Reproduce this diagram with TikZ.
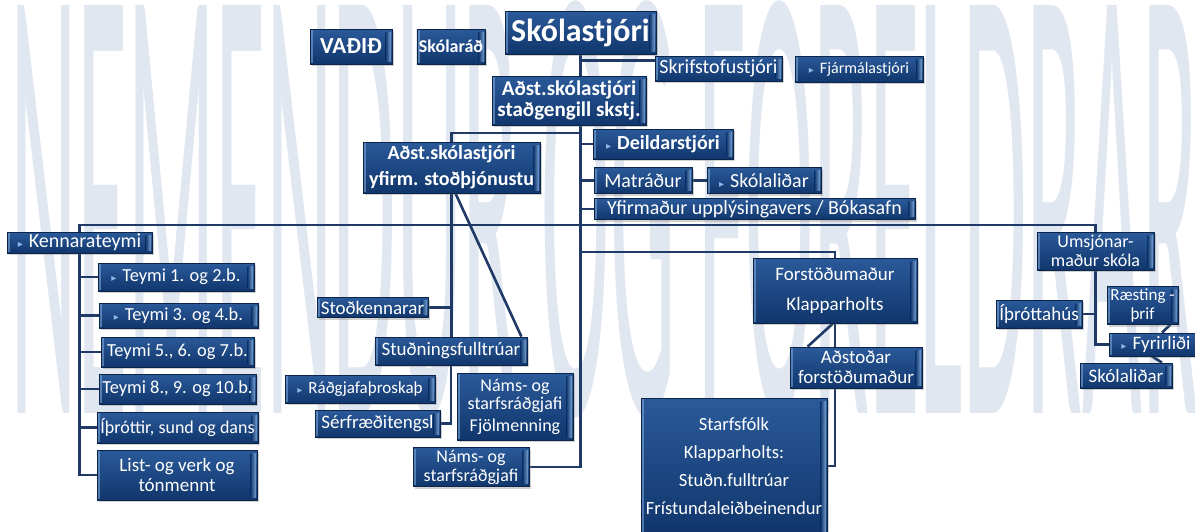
\documentclass[tikz,border=0pt]{standalone}
\usepackage{fontspec}
\setmainfont{Carlito}
\newfontfamily\dejavu{DejaVu Sans}
\usetikzlibrary{calc,shadows}
\definecolor{kassiupp}{HTML}{2B5A9A}
\definecolor{kassinid}{HTML}{10366C}
\definecolor{rammi}{HTML}{0B2449}
\definecolor{ljos}{HTML}{8FB8E6}
\definecolor{lina}{HTML}{1F3A66}
\definecolor{vatn}{HTML}{E1E7F0}
\newcommand{\pila}{{\dejavu\fontsize{5}{5}\selectfont\textcolor{ljos}{▸}}\hspace{3pt}}
\pgfdeclarelayer{bakgrunnur}
\pgfdeclarelayer{linur}
\pgfsetlayers{bakgrunnur,linur,main}

\begin{document}
\begin{tikzpicture}[x=0.5pt, y=-0.5pt,
  kassi/.style={rectangle, draw=rammi, line width=0.4pt, top color=kassiupp, bottom color=kassinid,
    text=white, align=center, inner sep=1pt, font=\fontsize{9.5}{10}\selectfont,
    drop shadow={shadow xshift=1.2pt, shadow yshift=-1.2pt, opacity=0.35},
    path picture={
      \fill[ljos, opacity=0.5] ([xshift=0.5pt,yshift=-0.5pt]path picture bounding box.north west) rectangle ([xshift=1.7pt,yshift=0.5pt]path picture bounding box.south west);
      \shade[left color=kassinid, right color=ljos, opacity=0.8] ([xshift=-3.2pt,yshift=-1.5pt]path picture bounding box.north east) rectangle ([xshift=-0.5pt,yshift=1.5pt]path picture bounding box.south east);
    }},
  teymi/.style={kassi, font=\fontsize{9.2}{10}\selectfont},
  tengi/.style={draw=lina, line width=1.3pt}]
\useasboundingbox (0,0) rectangle (1195,531);

% Vatnsmerki
\begin{pgfonlayer}{bakgrunnur}
\fill[white] (0,0) rectangle (1195,531);
\node[anchor=base west, inner sep=0pt, text=vatn, font=\fontsize{40}{40}\selectfont] (vatnsmerki) at (10,413) {\scalebox{1.29}[7.95]{NEMENDUR OG FORELDRAR}};
\end{pgfonlayer}

% Efsta röð
\node[kassi, font=\bfseries\fontsize{11.5}{12}\selectfont, minimum width=41pt, minimum height=17.5pt] (vadid) at (351,46.5) {VAÐIÐ};
\node[kassi, font=\bfseries\fontsize{9}{9}\selectfont, minimum width=33pt, minimum height=17.5pt] (skolarad) at (451,46.5) {Skólaráð};
\node[kassi, font=\bfseries\fontsize{16}{16}\selectfont, minimum width=75.5pt, minimum height=21.5pt] (skst) at (580.5,32.5) {Skólastjóri};
\node[kassi, font=\fontsize{10}{10}\selectfont, minimum width=63.5pt, minimum height=12.5pt] (skrif) at (718.5,68.5) {Skrifstofustjóri};
\node[kassi, font=\fontsize{8}{8}\selectfont, minimum width=64pt, minimum height=13pt] (fjarm) at (859,69) {\pila Fjármálastjóri};
\node[kassi, font=\bfseries\fontsize{10.5}{10.5}\selectfont, minimum width=77pt, minimum height=24.5pt] (stadg) at (569,100.5) {Aðst.skólastjóri\\staðgengill skstj.};

% Undir staðgengli
\node[kassi, font=\bfseries\fontsize{10}{10}\selectfont, minimum width=70pt, minimum height=15pt] (deild) at (663,144) {\pila Deildarstjóri};
\node[kassi, font=\bfseries\fontsize{10}{13}\selectfont, minimum width=88.5pt, minimum height=25.5pt] (yfirstod) at (451.5,167.5) {Aðst.skólastjóri\\yfirm. stoðþjónustu};
\node[kassi, font=\fontsize{10}{10}\selectfont, minimum width=49pt, minimum height=13pt] (matr) at (643,180.5) {Matráður};
\node[kassi, font=\fontsize{10}{10}\selectfont, minimum width=57pt, minimum height=13pt] (skolalT) at (764,180.5) {\pila Skólaliðar};
\node[kassi, font=\fontsize{10}{10}\selectfont, minimum width=160.5pt, minimum height=9pt] (yfirm) at (754.5,209) {Yfirmaður upplýsingavers / Bókasafn};

% Kennarateymi
\node[kassi, font=\fontsize{10}{10}\selectfont, minimum width=72.5pt, minimum height=10.5pt] (kenn) at (79.5,242.5) {\pila Kennarateymi};
\node[teymi, minimum width=78pt, minimum height=14pt] (t12) at (176,277) {\pila Teymi 1. og 2.b.};
\node[teymi, minimum width=79.5pt, minimum height=12.5pt] (t34) at (178.5,315.5) {\pila Teymi 3. og 4.b.};
\node[teymi, minimum width=76.5pt, minimum height=15pt] (t567) at (177.5,352) {Teymi 5., 6. og 7.b.};
\node[teymi, minimum width=78.5pt, minimum height=15pt] (t8910) at (177.5,389) {Teymi 8., 9. og 10.b.};
\node[teymi, font=\fontsize{9}{10}\selectfont, minimum width=80.5pt, minimum height=15.5pt] (ithr) at (177.5,427.5) {Íþróttir, sund og dans};
\node[teymi, font=\fontsize{9.5}{10}\selectfont, minimum width=80pt, minimum height=25pt] (list) at (177,475) {List- og verk og\\tónmennt};

% Stoðþjónusta
\node[kassi, minimum width=55.5pt, minimum height=10pt] (stodk) at (372.5,307.5) {Stoðkennarar};
\node[kassi, minimum width=76pt, minimum height=14pt] (studn) at (451,351) {Stuðningsfulltrúar};
\node[kassi, font=\fontsize{8.5}{9}\selectfont, minimum width=75pt, minimum height=14pt] (radg) at (360,389) {\pila Ráðgjafaþroskaþ};
\node[kassi, font=\fontsize{9}{9}\selectfont, minimum width=58pt, minimum height=33.5pt] (namsF) at (515,406.5) {Náms- og\\starfsráðgjafi\\[2pt]Fjölmenning};
\node[kassi, minimum width=62.5pt, minimum height=13.5pt] (serfr) at (377.5,423.5) {Sérfræðitengsl};
\node[kassi, font=\fontsize{9}{9.5}\selectfont, minimum width=58pt, minimum height=19pt] (namsB) at (471,467) {Náms- og\\starfsráðgjafi};

% Klapparholt
\node[kassi, font=\fontsize{9.5}{15}\selectfont, minimum width=82pt, minimum height=32.5pt] (forst) at (835,290.5) {Forstöðumaður\\Klapparholts};
\node[kassi, font=\fontsize{9.5}{10}\selectfont, minimum width=66pt, minimum height=20.5pt] (adstod) at (856,367.5) {Aðstoðar\\forstöðumaður};
\node[kassi, font=\fontsize{9.3}{14}\selectfont, minimum width=93pt, minimum height=68pt] (starfsf) at (734,466) {Starfsfólk\\Klapparholts:\\Stuðn.fulltrúar\\Frístundaleiðbeinendur};

% Umsjónarmaður skóla
\node[kassi, font=\fontsize{9}{9.5}\selectfont, minimum width=58.5pt, minimum height=19pt] (umsj) at (1095.5,251) {Umsjónar-\\maður skóla};
\node[kassi, minimum width=43pt, minimum height=14pt] (ithus) at (1039,314) {Íþróttahús};
\node[kassi, font=\fontsize{8.5}{9.5}\selectfont, minimum width=35.5pt, minimum height=16.5pt] (raest) at (1142.5,305.5) {Ræsting -\\þrif};
\node[kassi, minimum width=47pt, minimum height=11.5pt] (fyrir) at (1156,344.5) {\pila Fyrirliði};
\node[kassi, minimum width=46pt, minimum height=12.5pt] (skolalR) at (1126,375.5) {Skólaliðar};

% Tengingar
\begin{pgfonlayer}{linur}
\draw[tengi] (skst.south) |- (namsB.east);
\draw[tengi] ($(skrif.north west)+(0,5)$) -| (skst.south);
\foreach \n in {deild,matr,yfirm} \draw[tengi] (\n.west) -- (\n.west -| skst.south);
\draw[tengi] (matr.east) -- (skolalT.west);
\coordinate (grein) at (580,133);
\draw[tengi] (grein) -| (yfirstod.north);
\coordinate (lang) at (580,225);
\draw[tengi] (kenn.north) |- (lang) -| (umsj.north);
\coordinate (lang2) at (580,252);
\draw[tengi] (lang2) -| (forst.north);
% kennarateymi
\draw[tengi] (kenn.south) |- (list.west);
\foreach \n in {t12,t34,t567,t8910,ithr} \draw[tengi] (kenn.south |- \n.west) -- (\n.west);
% stoðþjónusta
\draw[tengi] (yfirstod.south) -- (yfirstod.south |- studn.north);
\draw[tengi] (stodk.east) -- (stodk.east -| yfirstod.south);
\draw[tengi] ($(yfirstod.south)+(4,0)$) -- ($(studn.north east)+(-6,0)$);
\draw[tengi] (studn.south) |- (serfr.east);
% Klapparholt
\draw[tengi] (forst.south) |- (starfsf.east);
\draw[tengi] ($(forst.south)+(-2,0)$) -- ($(adstod.north west)+(18,0)$);
% umsjónarmaður
\draw[tengi] (umsj.south) |- (fyrir.west);
\draw[tengi] (ithus.east) -- (ithus.east -| umsj.south);
\draw[tengi] ($(raest.south east)+(-8,0)$) -- ($(fyrir.north)+(6,0)$);
\draw[tengi] ($(fyrir.south)+(-4,0)$) -- ($(skolalR.north)+(36,0)$);
\end{pgfonlayer}
\end{tikzpicture}
\end{document}
